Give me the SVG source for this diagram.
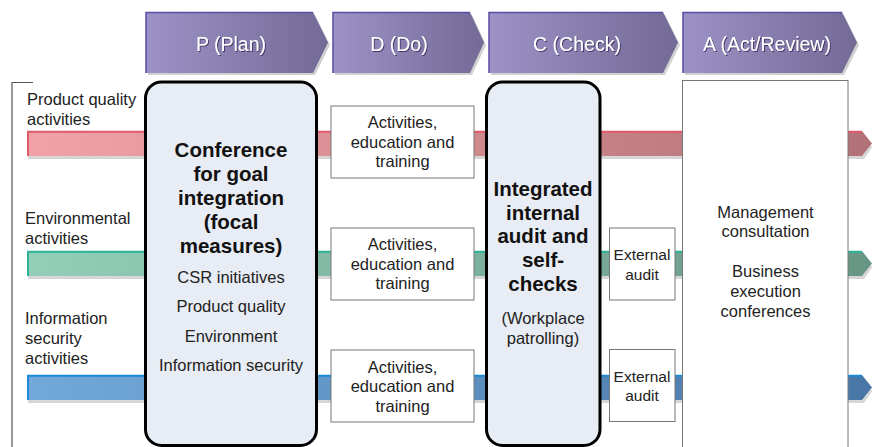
<svg xmlns="http://www.w3.org/2000/svg" width="872" height="447" viewBox="0 0 872 447">
<defs>
<linearGradient id="gHead" x1="0" y1="0" x2="1" y2="0">
<stop offset="0" stop-color="#9c92c6"/><stop offset="1" stop-color="#746a96"/>
</linearGradient>
<linearGradient id="gRed" gradientUnits="userSpaceOnUse" x1="27" y1="0" x2="872" y2="0">
<stop offset="0" stop-color="#f2a2a6"/><stop offset="1" stop-color="#b07276"/>
</linearGradient>
<linearGradient id="gGreen" gradientUnits="userSpaceOnUse" x1="27" y1="0" x2="872" y2="0">
<stop offset="0" stop-color="#92ceb8"/><stop offset="1" stop-color="#679684"/>
</linearGradient>
<linearGradient id="gBlue" gradientUnits="userSpaceOnUse" x1="27" y1="0" x2="872" y2="0">
<stop offset="0" stop-color="#72a9da"/><stop offset="1" stop-color="#4876a6"/>
</linearGradient>
<filter id="ts" x="-10%" y="-30%" width="120%" height="160%">
<feDropShadow dx="1" dy="1" stdDeviation="0.3" flood-color="#3e2f66" flood-opacity="0.9"/>
</filter>
</defs>
<style>
text{font-family:"Liberation Sans",Arial,sans-serif;fill:#222;}
.hd{font-size:19.5px;fill:#fff;text-anchor:middle;filter:url(#ts);}
.lbl{font-size:16.5px;}
.c{text-anchor:middle;}
.b{font-size:20.5px;font-weight:bold;text-anchor:middle;fill:#111;}
.box{fill:#fff;stroke:#777;stroke-width:1;}
.big{fill:#e8ecf4;stroke:#000;stroke-width:3;}
.head{fill:url(#gHead);}
.hsh{fill:#d0d0d0;}
.htop{fill:none;stroke:#5b4ba3;stroke-width:1.5;}
.bsh{fill:#d6d6d6;}
</style>

<g id="bracket">
<path d="M33 82.5 H12 V447" fill="none" stroke="#555" stroke-width="1.2"/>
</g>

<g id="headers">
<g id="hdr-plan">
<polygon class="hsh" points="148,15 315,15 330,45 315,75 148,75"/>
<polygon class="head" points="146,12 313,12 328,42.5 313,73 146,73"/>
<path class="htop" d="M146 73 V12.5 H313"/>
<text class="hd" x="231" y="50.5">P (Plan)</text>
</g>
<g id="hdr-do">
<polygon class="hsh" points="335,15 472,15 486,45 472,75 335,75"/>
<polygon class="head" points="333,12 470,12 484,42.5 470,73 333,73"/>
<path class="htop" d="M333 73 V12.5 H470"/>
<text class="hd" x="399" y="50.5">D (Do)</text>
</g>
<g id="hdr-check">
<polygon class="hsh" points="491,15 665,15 680,45 665,75 491,75"/>
<polygon class="head" points="489,12 663,12 678,42.5 663,73 489,73"/>
<path class="htop" d="M489 73 V12.5 H663"/>
<text class="hd" x="577" y="50.5">C (Check)</text>
</g>
<g id="hdr-act">
<polygon class="hsh" points="685,15 844,15 859,45 844,75 685,75"/>
<polygon class="head" points="683,12 842,12 857,42.5 842,73 683,73"/>
<path class="htop" d="M683 73 V12.5 H842"/>
<text class="hd" x="767" y="50.5">A (Act/Review)</text>
</g>
</g>

<g id="connectors">
<g id="bar-product">
<polygon class="bsh" points="28,156 862,156 870,146 873,146 864,159 28,159"/>
<polygon fill="url(#gRed)" points="27,131 862,131 872,143.5 862,156 27,156"/>
<path d="M28 156 V131.8 H862" fill="none" stroke="#e05a6c" stroke-width="2"/>
</g>
<g id="bar-env">
<polygon class="bsh" points="28,276 862,276 870,266 873,266 864,279 28,279"/>
<polygon fill="url(#gGreen)" points="27,251 862,251 872,263.5 862,276 27,276"/>
<path d="M28 276 V251.8 H862" fill="none" stroke="#2cb296" stroke-width="2"/>
</g>
<g id="bar-info">
<polygon class="bsh" points="28,400 862,400 870,390 873,390 864,403 28,403"/>
<polygon fill="url(#gBlue)" points="27,375 862,375 872,387.5 862,400 27,400"/>
<path d="M28 400 V375.8 H862" fill="none" stroke="#1a8ad8" stroke-width="2"/>
</g>
</g>

<g id="label-product">
<text class="lbl" x="27" y="104.5">Product quality</text>
<text class="lbl" x="27" y="124.5">activities</text>
</g>
<g id="label-env">
<text class="lbl" x="25" y="224">Environmental</text>
<text class="lbl" x="25" y="243.5">activities</text>
</g>
<g id="label-info">
<text class="lbl" x="25" y="324">Information</text>
<text class="lbl" x="25" y="344">security</text>
<text class="lbl" x="25" y="363.5">activities</text>
</g>

<g id="plan-box">
<rect class="big" x="145.5" y="82" width="171" height="363.5" rx="16"/>
<text class="b" x="231" y="157">Conference</text>
<text class="b" x="231" y="181">for goal</text>
<text class="b" x="231" y="205">integration</text>
<text class="b" x="231" y="229">(focal</text>
<text class="b" x="231" y="253">measures)</text>
<text class="lbl c" x="231" y="282.5">CSR initiatives</text>
<text class="lbl c" x="231" y="312">Product quality</text>
<text class="lbl c" x="231" y="341.5">Environment</text>
<text class="lbl c" x="231" y="370.5">Information security</text>
</g>

<g id="do-box-1">
<rect class="box" x="331" y="106" width="143" height="72"/>
<text class="lbl c" x="402.5" y="128">Activities,</text>
<text class="lbl c" x="402.5" y="147.5">education and</text>
<text class="lbl c" x="402.5" y="167">training</text>
</g>
<g id="do-box-2">
<rect class="box" x="331" y="228" width="143" height="72"/>
<text class="lbl c" x="402.5" y="250">Activities,</text>
<text class="lbl c" x="402.5" y="269.5">education and</text>
<text class="lbl c" x="402.5" y="289">training</text>
</g>
<g id="do-box-3">
<rect class="box" x="331" y="350" width="143" height="72"/>
<text class="lbl c" x="402.5" y="372.5">Activities,</text>
<text class="lbl c" x="402.5" y="392">education and</text>
<text class="lbl c" x="402.5" y="411.5">training</text>
</g>

<g id="check-box">
<rect class="big" x="486.5" y="82" width="113.5" height="363.5" rx="16"/>
<text class="b" x="543" y="196">Integrated</text>
<text class="b" x="543" y="219.5">internal</text>
<text class="b" x="543" y="243">audit and</text>
<text class="b" x="543" y="267">self-</text>
<text class="b" x="543" y="290.5">checks</text>
<text class="lbl c" x="543" y="323.5">(Workplace</text>
<text class="lbl c" x="543" y="343.5">patrolling)</text>
</g>

<g id="ext-audit-1">
<rect class="box" x="609.5" y="228" width="65.5" height="72"/>
<text class="lbl c" x="642" y="260" style="font-size:15.5px">External</text>
<text class="lbl c" x="642" y="279.5" style="font-size:15.5px">audit</text>
</g>
<g id="ext-audit-2">
<rect class="box" x="609.5" y="349.5" width="65.5" height="72"/>
<text class="lbl c" x="642" y="381.5" style="font-size:15.5px">External</text>
<text class="lbl c" x="642" y="401" style="font-size:15.5px">audit</text>
</g>

<g id="act-box">
<rect class="box" x="682.5" y="80.5" width="165.5" height="380"/>
<text class="lbl c" x="765.5" y="217.5">Management</text>
<text class="lbl c" x="765.5" y="237">consultation</text>
<text class="lbl c" x="765.5" y="277">Business</text>
<text class="lbl c" x="765.5" y="297">execution</text>
<text class="lbl c" x="765.5" y="317">conferences</text>
</g>
</svg>
